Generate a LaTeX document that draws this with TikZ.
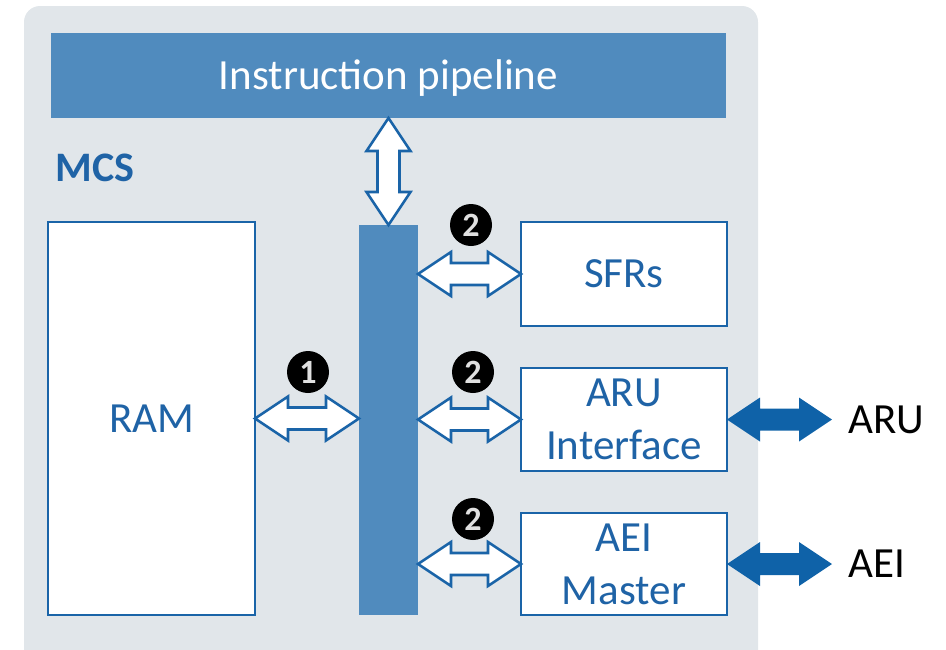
\documentclass[tikz,border=0pt]{standalone}
\usepackage{fontspec}
\setmainfont{Carlito}
\usetikzlibrary{calc}

\definecolor{panelgray}{HTML}{E1E6EA}
\definecolor{pipeblue}{HTML}{508BBE}
\definecolor{lineblue}{HTML}{1A64A8}
\definecolor{textblue}{HTML}{1F63A6}
\definecolor{solidblue}{HTML}{0F62A8}

% horizontal double arrow between two points at the height of the first
\newcommand{\hdarrow}[3]{%
  \path[#1] let \p1=#2, \p2=#3 in
    (\x1,\y1) -- (\x1+33pt,\y1+22pt) -- (\x1+33pt,\y1+11pt) --
    (\x2-33pt,\y1+11pt) -- (\x2-33pt,\y1+22pt) -- (\x2,\y1) --
    (\x2-33pt,\y1-22pt) -- (\x2-33pt,\y1-11pt) --
    (\x1+33pt,\y1-11pt) -- (\x1+33pt,\y1-22pt) -- cycle;}
% vertical double arrow between two points at the x of the first
\newcommand{\vdarrow}[3]{%
  \path[#1] let \p1=#2, \p2=#3 in
    (\x1,\y1) -- (\x1+22pt,\y1-33pt) -- (\x1+11pt,\y1-33pt) --
    (\x1+11pt,\y2+33pt) -- (\x1+22pt,\y2+33pt) -- (\x1,\y2) --
    (\x1-22pt,\y2+33pt) -- (\x1-11pt,\y2+33pt) --
    (\x1-11pt,\y1-33pt) -- (\x1-22pt,\y1-33pt) -- cycle;}

\tikzset{
  unit/.style={x=1pt,y=1pt},
  block/.style={draw=lineblue, line width=1.6pt, fill=white, outer sep=0pt,
    inner sep=0pt, anchor=north west, align=center, text=textblue,
    font=\fontsize{43}{53}\selectfont},
  hollow/.style={draw=lineblue, line width=2.6pt, fill=white, line join=miter},
  solid/.style={fill=solidblue},
  badge/.style={circle, fill=black, minimum size=42pt, inner sep=0pt,
    text=white!88!black, font=\fontsize{34}{34}\selectfont\bfseries},
  extlabel/.style={anchor=west, font=\fontsize{43}{43}\selectfont, text=black},
}

\begin{document}
\begin{tikzpicture}[unit]
  \useasboundingbox (0,0) rectangle (946,-649);
  \clip (0,0) rectangle (946,-649);

  % MCS panel
  \fill[panelgray, rounded corners=16pt] (24,-6) rectangle (758,-690);

  % instruction pipeline
  \node[fill=pipeblue, minimum width=675pt, minimum height=85pt, inner sep=0pt,
        outer sep=0pt, anchor=north west] (pipe) at (51,-33) {};
  \node[text=white, font=\fontsize{43}{43}\selectfont]
    (pipetext) at ($(pipe.center)+(0,-3)$) {Instruction pipeline};

  \node[anchor=west, text=textblue, font=\fontsize{42}{42}\selectfont\bfseries]
    (mcs) at (52,-168) {MCS};

  % internal bus
  \node[fill=pipeblue, minimum width=59pt, minimum height=390pt, inner sep=0pt,
        outer sep=0pt, anchor=north west] (bus) at (359,-225) {};

  % memory and peripheral blocks
  \node[block, minimum width=207pt, minimum height=393pt] (ram) at (48,-222) {RAM};
  \node[block, minimum width=206pt, minimum height=104pt] (sfr) at (521,-222) {SFRs};
  \node[block, minimum width=206pt, minimum height=103pt] (aru) at (521,-368) {ARU\\Interface};
  \node[block, minimum width=206pt, minimum height=102pt] (aei) at (521,-513) {AEI\\Master};

  % internal connections
  \vdarrow{hollow}{(pipe.south -| bus.north)}{(bus.north)}
  \hdarrow{hollow}{(sfr.west -| bus.east)}{(sfr.west)}
  \hdarrow{hollow}{(ram.east)}{(ram.east -| bus.west)}
  \hdarrow{hollow}{(aru.west -| bus.east)}{(aru.west)}
  \hdarrow{hollow}{(aei.west -| bus.east)}{(aei.west)}

  % external connections
  \coordinate (aruout) at ($(aru.east)+(105,0)$);
  \coordinate (aeiout) at ($(aei.east)+(105,0)$);
  \hdarrow{solid}{(aru.east)}{(aruout)}
  \hdarrow{solid}{(aei.east)}{(aeiout)}
  \node[extlabel] (arulbl) at ($(aruout)+(13,0)$) {ARU};
  \node[extlabel] (aeilbl) at ($(aeiout)+(13,0)$) {AEI};

  % access path markers
  \node[badge] (b1) at (308,-372) {1};
  \node[badge] (b2) at (471,-225) {2};
  \node[badge] (b3) at (473,-372) {2};
  \node[badge] (b4) at (473,-519) {2};
\end{tikzpicture}
\end{document}
